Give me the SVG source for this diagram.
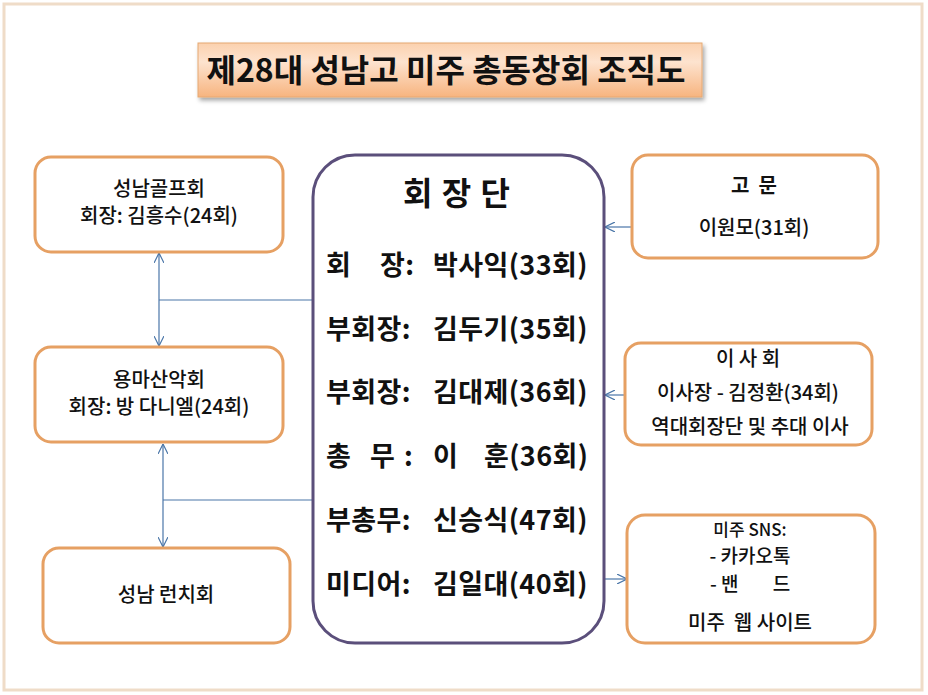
<svg xmlns="http://www.w3.org/2000/svg" width="928" height="695" viewBox="0 0 928 695">
<defs>
<linearGradient id="tg" x1="0" y1="0" x2="0" y2="1">
<stop offset="0" stop-color="#fbd1ae"/>
<stop offset="0.35" stop-color="#fde3cf"/>
<stop offset="1" stop-color="#f7b47f"/>
</linearGradient>
<filter id="sh" x="-5%" y="-20%" width="110%" height="150%">
<feDropShadow dx="2" dy="3" stdDeviation="2" flood-color="#000" flood-opacity="0.35"/>
</filter>
<marker id="ah" viewBox="0 0 10 10" refX="10" refY="5" markerWidth="10" markerHeight="10" markerUnits="userSpaceOnUse" orient="auto-start-reverse">
<path d="M0,0 L10,5 L0,10" fill="none" stroke="#4a76a8" stroke-width="1.2"/>
</marker>
</defs>
<style>
.side{fill:#fff;stroke:#e6a063;stroke-width:3}
.t{font-family:"Noto Sans CJK KR","Noto Sans",sans-serif;fill:#111;text-anchor:middle;font-weight:500}
.s{font-size:20px}
.c{font-family:"Noto Sans CJK KR","Noto Sans",sans-serif;fill:#111;font-size:27px;font-weight:bold;letter-spacing:0.4px}
.cn{fill:none;stroke:#4a76a8;stroke-width:1.2}
</style>
<rect x="0" y="0" width="928" height="695" fill="#fff"/>
<rect x="4" y="4" width="918" height="686" fill="none" stroke="#efdcc8" stroke-width="3"/>

<g id="title">
<rect x="198" y="43" width="504" height="54" fill="url(#tg)" stroke="#e6a872" stroke-width="1" filter="url(#sh)"/>
<text class="t" x="446" y="82" font-size="32" font-weight="bold" style="font-weight:bold">제28대 성남고 미주 총동창회 조직도</text>
</g>

<g id="connectors">
<line class="cn" x1="159" y1="253" x2="159" y2="346" marker-start="url(#ah)" marker-end="url(#ah)"/>
<line class="cn" x1="159" y1="300" x2="313" y2="300"/>
<line class="cn" x1="163" y1="444" x2="163" y2="547" marker-start="url(#ah)" marker-end="url(#ah)"/>
<line class="cn" x1="163" y1="500" x2="313" y2="500"/>
<line class="cn" x1="632" y1="227" x2="605" y2="227" marker-end="url(#ah)"/>
<line class="cn" x1="625" y1="395" x2="605" y2="395" marker-end="url(#ah)"/>
<line class="cn" x1="605" y1="579" x2="627" y2="579" marker-end="url(#ah)"/>
</g>

<g id="golf">
<rect class="side" x="35" y="157" width="248" height="95" rx="16"/>
<text class="t s" x="159" y="196">성남골프회</text>
<text class="t s" x="159" y="223">회장: 김흥수(24회)</text>
</g>

<g id="mountain">
<rect class="side" x="35" y="347" width="248" height="95" rx="16"/>
<text class="t s" x="159" y="387">용마산악회</text>
<text class="t s" x="159" y="414">회장: 방 다니엘(24회)</text>
</g>

<g id="lunch">
<rect class="side" x="43" y="548" width="247" height="95" rx="16"/>
<text class="t s" x="166" y="602">성남 런치회</text>
</g>

<g id="leadership">
<rect x="313" y="155" width="291" height="488" rx="42" fill="#fff" stroke="#5b4f7b" stroke-width="3"/>
<text class="t" x="457" y="205" font-size="32" style="font-weight:bold;letter-spacing:1px">회 장 단</text>
<text class="c" x="326" y="275">회</text>
<text class="c" x="380" y="275">장:</text>
<text class="c" x="433" y="275">박사익(33회)</text>
<text class="c" x="326" y="339">부회장:</text>
<text class="c" x="433" y="339">김두기(35회)</text>
<text class="c" x="326" y="402">부회장:</text>
<text class="c" x="433" y="402">김대제(36회)</text>
<text class="c" x="326" y="466">총</text>
<text class="c" x="370" y="466">무</text>
<text class="c" x="404" y="466">:</text>
<text class="c" x="433" y="466">이</text>
<text class="c" x="484" y="466">훈(36회)</text>
<text class="c" x="326" y="530">부총무:</text>
<text class="c" x="433" y="530">신승식(47회)</text>
<text class="c" x="326" y="594">미디어:</text>
<text class="c" x="433" y="594">김일대(40회)</text>
</g>

<g id="advisor">
<rect class="side" x="632" y="155" width="246" height="103" rx="16"/>
<text class="t s" x="754" y="193" style="font-weight:bold" xml:space="preserve">고  문</text>
<text class="t s" x="754" y="235">이원모(31회)</text>
</g>

<g id="board">
<rect class="side" x="625" y="343" width="247" height="102" rx="16"/>
<text class="t s" x="748" y="366">이 사 회</text>
<text class="t s" x="748" y="400">이사장 - 김정환(34회)</text>
<text class="t s" x="750" y="434">역대회장단 및 추대 이사</text>
</g>

<g id="sns">
<rect class="side" x="627" y="515" width="248" height="128" rx="18"/>
<text class="t" x="750" y="536" font-size="17">미주 SNS:</text>
<text class="t" x="750" y="563" font-size="19">- 카카오톡</text>
<text class="t" x="750" y="591" font-size="19" xml:space="preserve">- 밴        드</text>
<text class="t s" x="750" y="630" xml:space="preserve">미주  웹 사이트</text>
</g>
</svg>
